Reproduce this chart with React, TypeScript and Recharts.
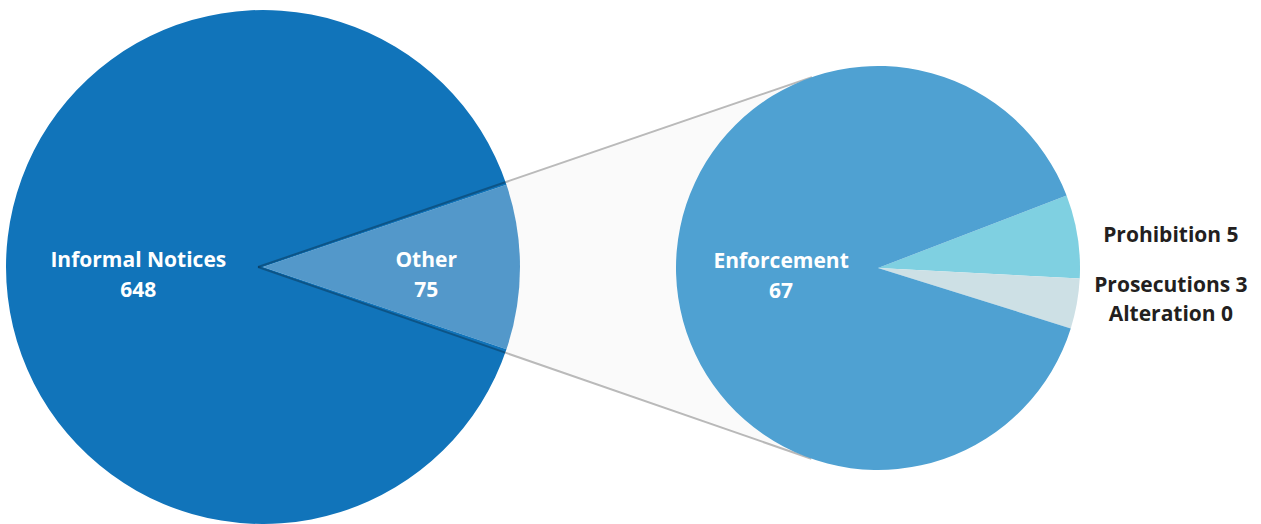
import React from "react";
import { PieChart, Pie, Cell, Customized } from "recharts";

const mainNames = ["Other", "Informal Notices"];
const mainValues = [75, 648];
const mainColors = ["#5398ca", "#1174ba"];

const detailNames = ["Prohibition", "Prosecutions", "Alteration", "Enforcement"];
const detailValues = [5, 3, 0, 67];
const detailColors = ["#7fd0e1", "#cde0e5", "#b9d3da", "#4fa1d2"];

const mainData = mainNames.map((name, i) => ({ name, value: mainValues[i] }));
const detailData = detailNames.map((name, i) => ({ name, value: detailValues[i] }));

const W = 1261;
const H = 524;
const L = { cx: 263, cy: 267, r: 257 };
const R = { cx: 878, cy: 268, r: 202 };

const mainTotal = mainValues.reduce((a, b) => a + b, 0);
const mainStart = (mainValues[0] / mainTotal) * 180;
const detailStart = 21;

const FONT = "'Open Sans', 'Noto Sans', sans-serif";
const RAD = Math.PI / 180;

function tangentPoints() {
  const dx = R.cx - L.cx;
  const dy = R.cy - L.cy;
  const d = Math.sqrt(dx * dx + dy * dy);
  const base = Math.atan2(dy, dx);
  const a = Math.asin(R.r / d);
  const len = Math.sqrt(d * d - R.r * R.r);
  const t1 = { x: L.cx + len * Math.cos(base - a), y: L.cy + len * Math.sin(base - a) };
  const t2 = { x: L.cx + len * Math.cos(base + a), y: L.cy + len * Math.sin(base + a) };
  return [t1, t2];
}

const ConnectorFill = () => {
  const [t1, t2] = tangentPoints();
  return (
    <polygon
      points={`${L.cx},${L.cy} ${t1.x},${t1.y} ${t2.x},${t2.y}`}
      fill="#fafafa"
      stroke="none"
    />
  );
};

const ConnectorLines = () => {
  const [t1, t2] = tangentPoints();
  return (
    <g>
      <line x1={L.cx - 5} y1={L.cy} x2={t1.x} y2={t1.y} stroke="#000" strokeOpacity={0.27} strokeWidth={2} />
      <line x1={L.cx - 5} y1={L.cy} x2={t2.x} y2={t2.y} stroke="#000" strokeOpacity={0.27} strokeWidth={2} />
    </g>
  );
};

const innerLabelFactor: Record<string, number> = {
  "Informal Notices": 0.485,
  Other: 0.635,
  Enforcement: 0.48,
};

const outerLabelDy: Record<string, number> = {
  Prohibition: -33,
  Prosecutions: 17,
  Alteration: 46,
};

const renderLabel = (props: any) => {
  const { cx, cy, midAngle, outerRadius, name, value } = props;
  if (innerLabelFactor[name] !== undefined) {
    const rr = outerRadius * innerLabelFactor[name];
    const x = cx + rr * Math.cos(-midAngle * RAD);
    const y = cy;
    return (
      <text
        x={x}
        y={y}
        textAnchor="middle"
        fill="#ffffff"
        fontFamily={FONT}
        fontWeight={700}
        fontSize={21}
      >
        <tspan x={x} dy={0}>{name}</tspan>
        <tspan x={x} dy={30}>{value}</tspan>
      </text>
    );
  }
  const x = cx + outerRadius * 1.45;
  const y = cy + (outerLabelDy[name] ?? 0);
  return (
    <text
      x={x}
      y={y}
      dy={7}
      textAnchor="middle"
      fill="#231f20"
      fontFamily={FONT}
      fontWeight={700}
      fontSize={21}
    >
      {`${name} ${value}`}
    </text>
  );
};

export default function App() {
  return (
    <div style={{ position: "absolute", left: 0, top: 0, width: W, height: H, background: "#fff" }}>
      <div style={{ position: "absolute", left: 0, top: 0 }}>
        <PieChart width={W} height={H} margin={{ top: 0, right: 0, bottom: 0, left: 0 }}>
          <Customized component={<ConnectorFill />} />
          <Pie
            data={mainData}
            dataKey="value"
            nameKey="name"
            cx={L.cx}
            cy={L.cy}
            outerRadius={L.r}
            startAngle={mainStart}
            endAngle={mainStart - 360}
            stroke="none"
            label={renderLabel}
            labelLine={false}
            isAnimationActive={false}
          >
            {mainData.map((d, i) => (
              <Cell key={d.name} fill={mainColors[i]} stroke="none" />
            ))}
          </Pie>
        </PieChart>
      </div>
      <div style={{ position: "absolute", left: 0, top: 0 }}>
        <PieChart width={W} height={H} margin={{ top: 0, right: 0, bottom: 0, left: 0 }}>
          <Customized component={<ConnectorLines />} />
          <Pie
            data={detailData}
            dataKey="value"
            nameKey="name"
            cx={R.cx}
            cy={R.cy}
            outerRadius={R.r}
            startAngle={detailStart}
            endAngle={detailStart - 360}
            stroke="none"
            label={renderLabel}
            labelLine={false}
            isAnimationActive={false}
          >
            {detailData.map((d, i) => (
              <Cell key={d.name} fill={detailColors[i]} stroke="none" />
            ))}
          </Pie>
        </PieChart>
      </div>
    </div>
  );
}
